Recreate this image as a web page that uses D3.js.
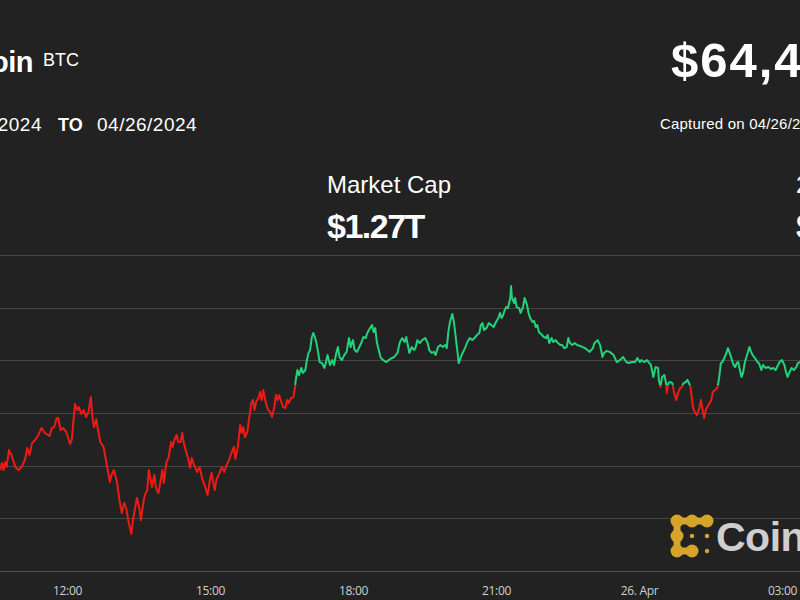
<!DOCTYPE html>
<html>
<head>
<meta charset="utf-8">
<script src="https://cdn.jsdelivr.net/npm/d3@7"></script>
<style>
  html, body { margin: 0; padding: 0; background: #222222; }
  svg { display: block; }
</style>
</head>
<body>
<svg id="chart" width="800" height="600"></svg>
<script>
// minutes after 25 Apr 2024 12:00, and BTC price in USD
const minutesFrom1200 = [
  -84,-82,-80,-78,-76,-73,-70,-65,-61,-57,
  -53,-50,-47,-44,-40,-36,-32,-28,-22,-19,
  -16,-13,-11,-8,-5,-1,4,6,10,13,
  15,18,21,24,27,30,32,34,37,39,
  42,46,49,52,54,56,59,63,66,69,
  72,75,77,81,83,86,88,91,93,96,
  98,101,103,107,110,112,115,118,120,122,
  125,128,131,133,135,138,140,143,145,147,
  150,153,155,157,160,164,167,170,174,177,
  180,182,184,186,188,191,195,198,201,204,
  207,210,212,215,218,220,222,224,227,229,
  232,234,236,238,241,243,245,247,250,253,
  256,258,261,263,265,267,269,272,275,277,
  279,282,285,287,288,290,292,295,297,300,
  302,304,306,308,310,312,314,316,318,321,
  324,326,328,331,334,336,339,341,343,346,
  349,352,355,357,360,362,365,368,371,373,
  376,378,380,384,386,388,390,393,395,398,
  402,405,409,412,416,419,422,425,427,429,
  431,434,437,439,441,444,447,451,454,456,
  459,462,464,467,470,473,476,478,480,482,
  485,487,489,492,493,496,498,501,504,507,
  510,513,516,519,521,523,525,528,531,534,
  537,540,543,545,547,549,551,553,555,558,
  559,560,563,564,566,569,571,574,576,579,
  581,583,586,588,590,592,594,598,600,603,
  605,607,610,612,615,618,621,623,626,629,
  631,633,636,639,642,646,649,652,655,658,
  662,664,668,671,674,676,679,683,688,692,
  696,700,704,707,711,715,718,721,723,727,
  730,733,735,738,741,744,745,747,749,752,
  754,755,757,759,762,764,767,769,772,774,
  776,779,781,783,785,788,790,793,796,798,
  800,802,804,806,809,811,813,816,819,821,
  823,825,828,830,832,835,837,839,841,843,
  845,847,849,851,853,856,859,861,863,866,
  869,871,874,876,879,883,886,889,892,895,
  897,900,903,905,907,909,912,915,918,920,923
];

const priceUsd = [
  63979,64013,63979,64017,63994,64074,64051,63994,63979,63994,
  64027,64084,64051,64108,64122,64146,64179,64155,64141,64179,
  64183,64226,64226,64169,64179,64160,64103,64122,64293,64264,
  64278,64245,64264,64231,64255,64326,64231,64183,64221,64169,
  64112,64089,64027,63965,63922,63956,63979,63922,63837,63775,
  63823,63790,63742,63676,63742,63804,63847,63799,63742,63823,
  63861,63884,63979,63899,63956,63894,63870,63932,63979,63918,
  64013,64041,64112,64089,64122,64146,64112,64112,64155,64108,
  64065,64027,63989,64036,64003,63970,63994,63941,63899,63861,
  63932,63965,63922,63884,63932,63956,63994,63970,64003,64027,
  64060,64089,64032,64089,64193,64155,64183,64136,64160,64217,
  64297,64312,64264,64302,64321,64350,64312,64359,64302,64264,
  64255,64231,64278,64335,64312,64335,64312,64278,64274,64312,
  64297,64321,64326,64373,64407,64454,64430,64464,64440,64454,
  64501,64535,64549,64606,64630,64611,64582,64540,64492,64487,
  64464,64492,64525,64478,64501,64478,64535,64563,64516,64501,
  64525,64540,64606,64563,64596,64549,64540,64563,64587,64611,
  64606,64630,64644,64668,64634,64653,64587,64540,64511,64501,
  64492,64501,64511,64516,64535,64587,64606,64587,64611,64573,
  64535,64563,64549,64563,64596,64582,64596,64606,64582,64549,
  64535,64540,64525,64563,64573,64563,64573,64558,64634,64682,
  64720,64682,64620,64525,64487,64516,64535,64558,64587,64606,
  64596,64606,64620,64630,64668,64677,64644,64653,64677,64668,
  64658,64682,64701,64725,64701,64715,64739,64753,64748,64796,
  64853,64796,64772,64796,64753,64748,64725,64753,64796,64763,
  64725,64701,64682,64687,64658,64668,64634,64620,64611,64606,
  64620,64582,64606,64587,64596,64582,64573,64573,64558,64563,
  64606,64582,64573,64582,64573,64568,64563,64558,64549,64540,
  64558,64582,64596,64573,64516,64535,64544,64540,64525,64492,
  64501,64516,64492,64487,64492,64492,64511,64492,64501,64492,
  64501,64487,64478,64421,64468,64464,64407,64373,64421,64430,
  64392,64345,64392,64397,64392,64350,64312,64345,64369,64373,
  64392,64397,64407,64392,64369,64274,64255,64240,64274,64312,
  64264,64226,64264,64278,64297,64312,64350,64359,64373,64421,
  64487,64492,64516,64535,64558,64525,64501,64478,64468,64487,
  64492,64454,64421,64440,64487,64525,64563,64540,64525,64511,
  64492,64487,64454,64478,64464,64468,64459,64464,64454,64478,
  64492,64501,64478,64445,64421,64440,64464,64454,64468,64487,64492
];

const openPrice = 64380;
const gridValues = [63750, 64000, 64250, 64500, 64750, 65000];
const tickHours = [12, 15, 18, 21, 24, 27];

const base = new Date(2024, 3, 25, 12, 0);
const atMinutes = m => new Date(base.getTime() + m * 60000);
const data = minutesFrom1200.map((m, i) => ({ t: atMinutes(m), v: priceUsd[i] }));

const svg = d3.select("#chart");
svg.append("rect").attr("width", 800).attr("height", 600).attr("fill", "#222222");

const x = d3.scaleTime()
  .domain([atMinutes(0), atMinutes(15 * 60)])
  .range([67, 782]);
const y = d3.scaleLinear()
  .domain([63500, 65000])
  .range([571, 255]);

// header
const sans = "'Liberation Sans', Arial, Helvetica, sans-serif";
const header = svg.append("g").attr("font-family", sans).attr("fill", "#ffffff");

header.append("text").attr("x", 33).attr("y", 72).attr("text-anchor", "end")
  .attr("font-size", 29).attr("font-weight", 700).attr("letter-spacing", -0.5).text("Bitcoin");
header.append("text").attr("x", 43).attr("y", 66)
  .attr("font-size", 18).text("BTC");

header.append("text").attr("x", 42).attr("y", 131).attr("text-anchor", "end")
  .attr("font-size", 19).attr("letter-spacing", 0.5).text("04/25/2024");
header.append("text").attr("x", 58).attr("y", 131)
  .attr("font-size", 18).attr("font-weight", 700).text("TO");
header.append("text").attr("x", 97).attr("y", 131)
  .attr("font-size", 19).attr("letter-spacing", 0.5).text("04/26/2024");

header.append("text").attr("x", 671).attr("y", 77)
  .attr("font-size", 49).attr("font-weight", 700).attr("letter-spacing", 2).text("$64,453.21");
header.append("text").attr("x", 660).attr("y", 129)
  .attr("font-size", 15).attr("letter-spacing", 0.2).text("Captured on 04/26/2024");

header.append("text").attr("x", 327).attr("y", 193)
  .attr("font-size", 24).text("Market Cap");
header.append("text").attr("x", 327).attr("y", 238)
  .attr("font-size", 34).attr("font-weight", 700).attr("letter-spacing", -1.5).text("$1.27T");
header.append("text").attr("x", 796).attr("y", 193)
  .attr("font-size", 24).text("24h Volume");
header.append("text").attr("x", 796).attr("y", 238)
  .attr("font-size", 34).attr("font-weight", 700).attr("letter-spacing", -1.5).text("$31.5B");

// grid lines
svg.append("g").selectAll("line")
  .data(gridValues)
  .join("line")
  .attr("x1", 0).attr("x2", 800)
  .attr("y1", d => Math.round(y(d)) + 0.5)
  .attr("y2", d => Math.round(y(d)) + 0.5)
  .attr("stroke", "#474747")
  .attr("stroke-width", 1);

// x axis
const xAxis = d3.axisBottom(x)
  .tickValues(tickHours.map(h => atMinutes((h - 12) * 60)))
  .tickSize(0)
  .tickPadding(15)
  .tickFormat(d => d.getHours() === 0 ? "26. Apr" : d3.timeFormat("%H:%M")(d));

const axisG = svg.append("g")
  .attr("transform", `translate(0,${Math.round(y(63500)) + 0.5})`)
  .call(xAxis);
axisG.select(".domain").remove();
axisG.append("line").attr("x1", 0).attr("x2", 800)
  .attr("stroke", "#4d4d4d").attr("stroke-width", 1);
axisG.selectAll(".tick text")
  .attr("fill", "#d0d0d0")
  .attr("font-family", "'Open Sans', sans-serif")
  .attr("font-size", 12)
  .attr("letter-spacing", -0.3);

// logo
const logo = svg.append("g").attr("fill", "#d6a42b");
const cell = 15, lx = 677, ly = 521;
const bigDots = [[0, 0], [1, 0], [2, 0], [0, 1], [0, 2], [1, 2]];
const smallDots = [[1, 1], [2, 1], [2, 2]];
logo.append("path")
  .attr("d", `M${lx + 2 * cell},${ly} L${lx},${ly} L${lx},${ly + 2 * cell} L${lx + cell},${ly + 2 * cell}`)
  .attr("fill", "none").attr("stroke", "#d6a42b").attr("stroke-width", 7)
  .attr("stroke-linejoin", "round");
logo.selectAll("circle.big").data(bigDots).join("circle")
  .attr("class", "big")
  .attr("cx", d => lx + d[0] * cell).attr("cy", d => ly + d[1] * cell).attr("r", 6.5);
logo.selectAll("circle.small").data(smallDots).join("circle")
  .attr("class", "small")
  .attr("cx", d => lx + d[0] * cell).attr("cy", d => ly + d[1] * cell).attr("r", 2.2);
svg.append("text").attr("x", 716).attr("y", 551)
  .attr("font-family", sans).attr("font-size", 41).attr("font-weight", 700)
  .attr("fill", "#cfcfcf").attr("letter-spacing", -0.5).text("CoinDesk");

// price line, green above the open price, red below
const thresholdY = y(openPrice);
const defs = svg.append("defs");
defs.append("clipPath").attr("id", "clip-up")
  .append("rect").attr("x", 0).attr("y", 0).attr("width", 800).attr("height", thresholdY);
defs.append("clipPath").attr("id", "clip-down")
  .append("rect").attr("x", 0).attr("y", thresholdY).attr("width", 800).attr("height", 600 - thresholdY);

const line = d3.line()
  .x(d => x(d.t))
  .y(d => y(d.v));

svg.append("path")
  .datum(data)
  .attr("clip-path", "url(#clip-up)")
  .attr("fill", "none")
  .attr("stroke", "#22d37c")
  .attr("stroke-width", 2)
  .attr("stroke-linejoin", "round")
  .attr("d", line);

svg.append("path")
  .datum(data)
  .attr("clip-path", "url(#clip-down)")
  .attr("fill", "none")
  .attr("stroke", "#ee1b14")
  .attr("stroke-width", 2)
  .attr("stroke-linejoin", "round")
  .attr("d", line);
</script>
</body>
</html>
